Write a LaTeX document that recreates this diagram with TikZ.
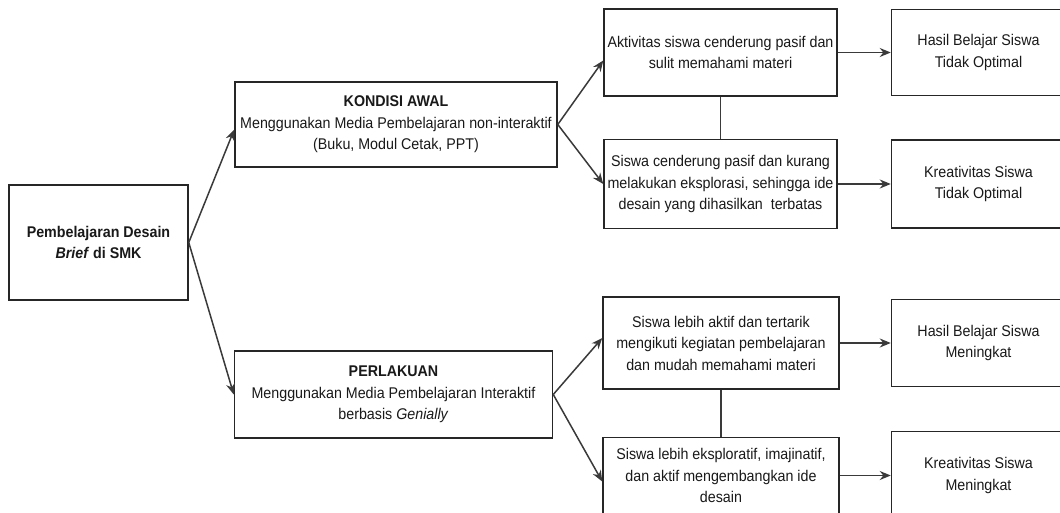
\documentclass[tikz,border=0pt]{standalone}
\usepackage{fontspec}
\setmainfont{Liberation Sans}[FakeStretch=0.92]
\usetikzlibrary{positioning}
\usetikzlibrary{arrows.meta}
\definecolor{linegray}{HTML}{3A3A3A}
\tikzset{node distance=42pt,
    box/.style={
        draw=black!85,
        line width=1.5pt,
        align=center,
        inner sep=2pt,
        text=black!90,
        font=\fontsize{15.5}{21.5}\selectfont},
    every edge/.style={
        draw=linegray,
        -{Stealth[length=11pt,width=9pt]},
        line width=1.5pt}}

\begin{document}
\begin{tikzpicture}[x=1pt,y=-1pt]
        \useasboundingbox[fill=white] (0,0) rectangle (1060,513);
        \node[box,minimum width=179pt,minimum height=115pt] (start) at (98.5,242.5) {\textbf{Pembelajaran Desain}\\\textbf{\textit{Brief} di SMK}};
        \node[box,minimum width=322pt,minimum height=85pt] (awal) at (396,124.5) {\textbf{KONDISI AWAL}\\Menggunakan Media Pembelajaran non-interaktif\\(Buku, Modul Cetak, PPT)};
        \node[box,minimum width=318pt,minimum height=87pt] (perlakuan) at (393.5,394.5) {\textbf{PERLAKUAN}\\Menggunakan Media Pembelajaran Interaktif\\berbasis \textit{Genially}};

        \node[box,minimum width=233pt,minimum height=87pt] (pasif) at (720.5,52.5) {Aktivitas siswa cenderung pasif dan\\sulit memahami materi};
        \node[box,minimum width=233pt,minimum height=89pt,below=42pt of pasif] (eksplor) {Siswa cenderung pasif dan kurang\\melakukan eksplorasi, sehingga ide\\desain yang dihasilkan\ \ terbatas};
        \node[box,minimum width=236pt,minimum height=92pt] (aktif) at (721,343) {Siswa lebih aktif dan tertarik\\mengikuti kegiatan pembelajaran\\dan mudah memahami materi};
        \node[box,minimum width=236pt,minimum height=76pt,below=47pt of aktif] (imajinatif) {Siswa lebih eksploratif, imajinatif,\\dan aktif mengembangkan ide\\desain};

        \node[box,minimum width=174pt,minimum height=86pt,right=53pt of pasif] (hasil1) {Hasil Belajar Siswa\\Tidak Optimal};
        \node[box,minimum width=174pt,minimum height=88pt,right=53pt of eksplor] (kreatif1) {Kreativitas Siswa\\Tidak Optimal};
        \node[box,minimum width=174pt,minimum height=87pt,right=51pt of aktif] (hasil2) {Hasil Belajar Siswa\\Meningkat};
        \node[box,minimum width=174pt,minimum height=88pt,right=51pt of imajinatif] (kreatif2) {Kreativitas Siswa\\Meningkat};

        \draw (start.east) edge ([yshift=-5pt]awal.west);
        \draw (start.east) edge (perlakuan.west);
        \draw (awal.east) edge ([yshift=-8pt]pasif.west);
        \draw (awal.east) edge (eksplor.west);
        \draw (perlakuan.east) edge ([yshift=5pt]aktif.west);
        \draw (perlakuan.east) edge ([yshift=-6pt]imajinatif.west);
        \draw[linegray,line width=1.5pt] (pasif.south) -- (eksplor.north);
        \draw[linegray,line width=1.5pt] (aktif.south) -- (imajinatif.north);

        \draw (pasif) edge (hasil1);
        \draw (eksplor) edge (kreatif1);
        \draw (aktif) edge (hasil2);
        \draw (imajinatif) edge (kreatif2);
    \end{tikzpicture}
\end{document}
